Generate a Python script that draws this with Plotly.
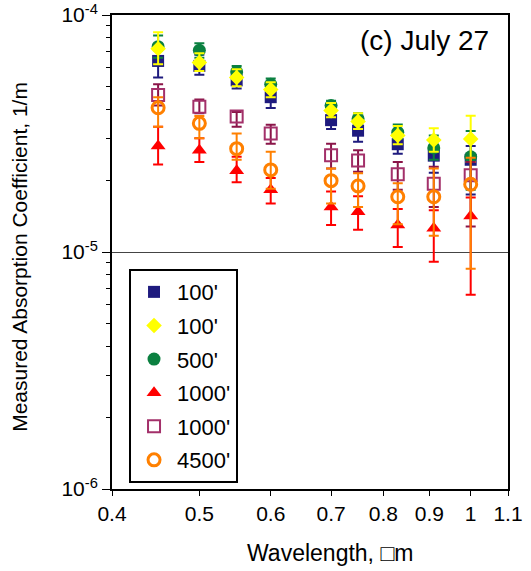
import plotly.graph_objects as go

wavelength = [0.45, 0.5, 0.55, 0.6, 0.7, 0.75, 0.83, 0.91, 1.0]

# 100' (filled navy squares)
sq100 = [6.4e-5, 6.1e-5, 5.3e-5, 4.5e-5, 3.6e-5, 3.25e-5, 2.85e-5, 2.55e-5, 2.45e-5]
sq100_hi = [7.5e-5, 6.8e-5, 5.9e-5, 5.1e-5, 4.0e-5, 3.55e-5, 3.15e-5, 2.8e-5, 2.8e-5]
sq100_lo = [5.45e-5, 5.6e-5, 4.9e-5, 4.05e-5, 3.3e-5, 2.92e-5, 2.6e-5, 2.16e-5, 1.75e-5]

# 100' (yellow diamonds)
dia100 = [7.2e-5, 6.3e-5, 5.45e-5, 4.85e-5, 3.95e-5, 3.55e-5, 3.1e-5, 2.97e-5, 3.0e-5]
dia100_hi = [8.45e-5, 6.9e-5, 5.9e-5, 5.2e-5, 4.25e-5, 3.85e-5, 3.4e-5, 3.33e-5, 3.76e-5]
dia100_lo = [6.2e-5, 5.8e-5, 5.0e-5, 4.5e-5, 3.7e-5, 3.3e-5, 2.85e-5, 2.65e-5, 2.4e-5]

# 500' (green circles)
c500 = [7.35e-5, 7.1e-5, 5.75e-5, 5.1e-5, 4.15e-5, 3.65e-5, 3.2e-5, 2.75e-5, 2.52e-5]
c500_hi = [8.2e-5, 7.6e-5, 6.1e-5, 5.4e-5, 4.35e-5, 3.85e-5, 3.45e-5, 3.1e-5, 3.24e-5]
c500_lo = [6.6e-5, 6.6e-5, 5.4e-5, 4.8e-5, 3.95e-5, 3.45e-5, 3.0e-5, 2.45e-5, 1.83e-5]

# 1000' (red triangles)
t1000 = [2.8e-5, 2.69e-5, 2.2e-5, 1.83e-5, 1.55e-5, 1.48e-5, 1.3e-5, 1.26e-5, 1.42e-5]
t1000_hi = [3.38e-5, 3.02e-5, 2.52e-5, 2.05e-5, 1.8e-5, 1.72e-5, 1.52e-5, 1.5e-5, 1.7e-5]
t1000_lo = [2.34e-5, 2.4e-5, 1.97e-5, 1.6e-5, 1.3e-5, 1.24e-5, 1.05e-5, 9.1e-6, 6.6e-6]

# 1000' (open squares)
os1000 = [4.6e-5, 4.1e-5, 3.73e-5, 3.16e-5, 2.56e-5, 2.43e-5, 2.13e-5, 1.94e-5, 2.11e-5]
os1000_hi = [5.1e-5, 4.4e-5, 3.9e-5, 3.44e-5, 2.86e-5, 2.69e-5, 2.4e-5, 2.29e-5, 2.4e-5]
os1000_lo = [4.15e-5, 3.85e-5, 3.38e-5, 2.86e-5, 2.25e-5, 2.18e-5, 1.83e-5, 1.55e-5, 1.28e-5]

# 4500' (open orange circles)
oc4500 = [4.06e-5, 3.49e-5, 2.73e-5, 2.22e-5, 2.0e-5, 1.9e-5, 1.71e-5, 1.71e-5, 1.93e-5]
oc4500_hi = [4.5e-5, 3.75e-5, 3.16e-5, 2.65e-5, 2.25e-5, 2.15e-5, 1.95e-5, 2.25e-5, 2.5e-5]
oc4500_lo = [3.38e-5, 3.02e-5, 2.45e-5, 1.85e-5, 1.6e-5, 1.55e-5, 1.31e-5, 1.17e-5, 8.5e-6]

x_ticks = [0.4, 0.5, 0.6, 0.7, 0.8, 0.9, 1.0, 1.1]
x_ticktext = ["0.4", "0.5", "0.6", "0.7", "0.8", "0.9", "1", "1.1"]
y_ticks = [1e-6, 1e-5, 1e-4]
y_ticktext = ["10<sup>-6</sup>", "10<sup>-5</sup>", "10<sup>-4</sup>"]
y_minor = [m * 10.0 ** e for e in (-6, -5) for m in range(2, 10)]

FONT = "Liberation Sans, Arial, Helvetica, sans-serif"


def err(vals, hi, lo, color):
    return dict(type="data", symmetric=False,
                array=[h - v for h, v in zip(hi, vals)],
                arrayminus=[v - l for v, l in zip(vals, lo)],
                color=color, thickness=2, width=5)


series = [
    # name, values, hi, lo, symbol, size, fill, line color, line width, err color, legend rank
    ("100'", sq100, sq100_hi, sq100_lo, "square", 12, "#1e1a7e", "#1e1a7e", 0, "#1e1a7e", 1),
    ("500'", c500, c500_hi, c500_lo, "circle", 13, "#0b8040", "#0b8040", 0, "#0b8040", 3),
    ("100'", dia100, dia100_hi, dia100_lo, "diamond", 12, "#ffff00", "#ffff00", 0, "#ffff00", 2),
    ("1000'", os1000, os1000_hi, os1000_lo, "square-open", 12, "#a3306a", "#a3306a", 2, "#8a1448", 5),
    ("1000'", t1000, t1000_hi, t1000_lo, "triangle-up", 13, "#ff0000", "#ff0000", 0, "#ff0000", 4),
    ("4500'", oc4500, oc4500_hi, oc4500_lo, "circle-open", 12, "#ff8000", "#ff8000", 3, "#ff8000", 6),
]

fig = go.Figure()
for i, (name, vals, hi, lo, sym, size, fill, lc, lw, ec, rank) in enumerate(series):
    fig.add_trace(go.Scatter(
        x=wavelength, y=vals, mode="markers", name=name,
        legendrank=rank, legendgroup=f"g{rank}",
        marker=dict(symbol=sym, size=size, color=fill,
                    line=dict(color=lc, width=lw)),
        error_y=err(vals, hi, lo, ec),
    ))

axis_common = dict(showline=True, linecolor="black", linewidth=2, mirror=True,
                   ticks="outside", tickcolor="black", tickwidth=1,
                   tickfont=dict(family=FONT, size=21, color="black"),
                   zeroline=False, automargin=False)

fig.update_xaxes(type="log", range=[-0.39794, 0.041393], tickmode="array",
                 tickvals=x_ticks, ticktext=x_ticktext, ticklen=5,
                 showgrid=False, **axis_common)
fig.update_yaxes(type="log", range=[-6, -4], tickmode="array",
                 tickvals=y_ticks, ticktext=y_ticktext, ticklen=8,
                 showgrid=True, gridcolor="#444444", gridwidth=1,
                 minor=dict(tickmode="array", tickvals=y_minor, ticks="outside",
                            ticklen=4, tickcolor="black", showgrid=False),
                 **axis_common)

fig.update_layout(
    width=531, height=571,
    margin=dict(l=112, r=23, t=15, b=82, autoexpand=False),
    paper_bgcolor="white", plot_bgcolor="white",
    font=dict(family=FONT, color="black"),
    showlegend=True,
    legend=dict(x=0.043, y=0.464, xanchor="left", yanchor="top",
                bgcolor="white", bordercolor="black", borderwidth=2,
                font=dict(family=FONT, size=22, color="black"),
                traceorder="grouped", tracegroupgap=2, itemwidth=36),
    annotations=[
        dict(text="(c) July 27", xref="paper", yref="paper", x=0.79, y=0.947,
             showarrow=False, font=dict(family=FONT, size=28, color="black"),
             xanchor="center", yanchor="middle"),
        dict(text="Wavelength, \u25a1m", xref="paper", yref="paper", x=0.55, y=-0.135,
             showarrow=False, font=dict(family=FONT, size=23, color="black"),
             xanchor="center", yanchor="middle"),
        dict(text="Measured Absorption Coefficient, 1/m", xref="paper", yref="paper",
             x=-0.232, y=0.49, textangle=-90, showarrow=False,
             font=dict(family=FONT, size=21, color="black"),
             xanchor="center", yanchor="middle"),
    ],
)

fig.write_html("out.html", config={"displayModeBar": False},
               post_script="document.body.style.margin='0';document.body.style.padding='0';")
